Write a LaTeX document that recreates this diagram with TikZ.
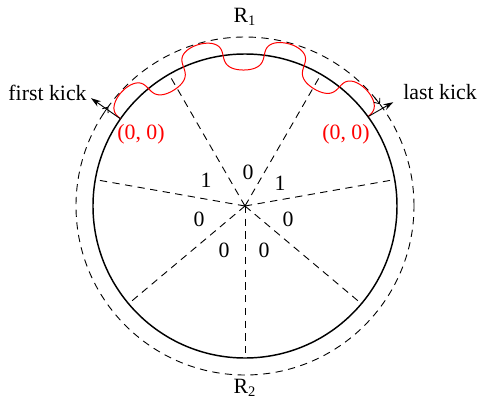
\documentclass[tikz,border=0pt]{standalone}
\usepackage{fontspec}
\setmainfont{Liberation Serif}
\usetikzlibrary{arrows.meta}
\tikzset{
  ring/.style={draw=black, line width=0.8pt},
  orbit/.style={draw=black, line width=0.5pt, dash pattern=on 4pt off 3pt},
  spoke/.style={draw=black, line width=0.5pt, dash pattern=on 4pt off 3pt},
  beam/.style={draw=red, line width=0.55pt},
  kick/.style={-{Stealth[length=5.5pt, width=3.5pt]}, draw=black, line width=0.5pt},
  dir/.style={-{Straight Barb[length=2.5pt, width=4pt]}, draw=black, line width=0.45pt},
  lbl/.style={font=\fontsize{12}{14}\selectfont, inner sep=0pt},
  ptlbl/.style={lbl, text=red}
}
\begin{document}
\begin{tikzpicture}[x=0.55pt, y=0.55pt]
  \useasboundingbox (-245,-195) rectangle (234,206);
  \coordinate (o) at (0,0);
  % ring and orbit
  \draw[ring] (o) circle (152);
  \draw[orbit] (o) circle (169);
  \foreach \a in {10,60,120,170,220,270,320}
    \draw[spoke] (o) -- (\a:152);
  % beam path between the two kicks
  \coordinate (fk0) at (145:152);
  \coordinate (lk0) at (36:152);
  \draw[beam] plot[domain=0:1260, samples=400, variable=\t]
    ({145-0.0865079*(\t-26*sin(2*\t))}:{152+16*sin(\t)});
  \coordinate (fk1) at (145:188);
  \coordinate (lk1) at (35:181);
  \draw[kick] (fk0) -- (fk1);
  \draw[kick] (lk0) -- (lk1);
  \draw[dir] (147:169) arc[start angle=147, end angle=144, radius=169];
  \draw[dir] (40:169) arc[start angle=40, end angle=37, radius=169];
  \node[lbl, anchor=east] (first) at (-158,113) {first kick};
  \node[lbl, anchor=west] (last) at (158,114) {last kick};
  \node[ptlbl] (p0) at (-104,72) {(0, 0)};
  \node[ptlbl] (p1) at (101,72) {(0, 0)};
  \node[lbl] (r1) at (0,189) {R\textsubscript{1}};
  \node[lbl] (r2) at (0,-182) {R\textsubscript{2}};
  % sector values
  \node[lbl] (s1) at (3,34) {0};
  \node[lbl] (s2) at (-39,26) {1};
  \node[lbl] (s3) at (35,23) {1};
  \node[lbl] (s4) at (-46,-13) {0};
  \node[lbl] (s5) at (43,-13) {0};
  \node[lbl] (s6) at (-21,-44) {0};
  \node[lbl] (s7) at (19,-44) {0};
\end{tikzpicture}
\end{document}
